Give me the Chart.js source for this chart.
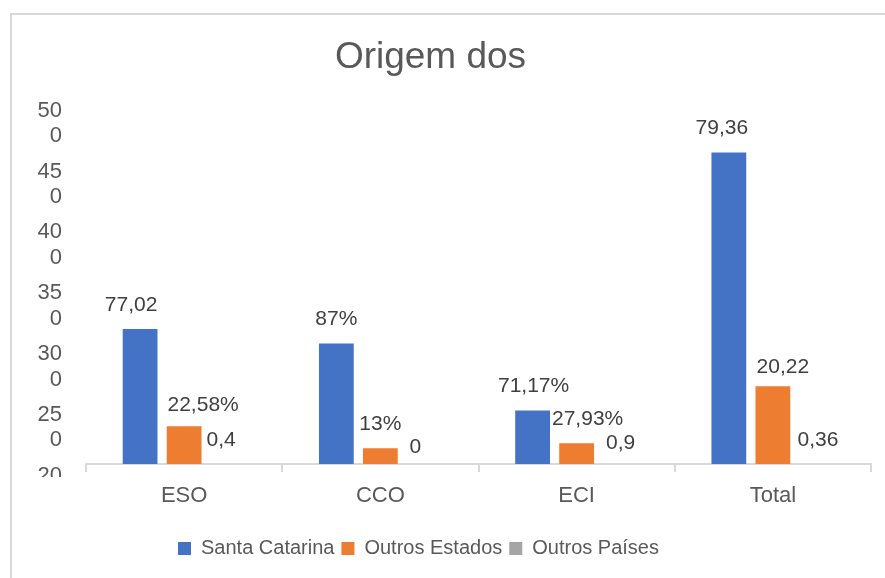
<!DOCTYPE html>
<html>
<head>
<meta charset="utf-8">
<script src="https://cdn.jsdelivr.net/npm/chart.js@4.4.1/dist/chart.umd.min.js"></script>
<style>
    html, body { margin: 0; padding: 0; background: #fff; overflow: hidden; }
    #frame {
        position: absolute; left: 10px; top: 13px; width: 900px; height: 600px;
        border-left: 2px solid #d9d9d9; border-top: 2px solid #d9d9d9;
    }
    #chart { position: absolute; left: 0; top: 0; }
</style>
</head>
<body>
<div id="frame"></div>
<canvas id="chart" width="885" height="578"></canvas>
<script>
// dados
const titleText = 'Origem dos';
const categories = ['ESO', 'CCO', 'ECI', 'Total'];
const seriesNames = ['Santa Catarina', 'Outros Estados', 'Outros Países'];
const santaCatarina = [331, 319, 264, 476];
const outrosEstados = [251, 233, 237, 284];
const outrosPaises = [2, 0, 3, 5];
const labelsSC = ['77,02', '87%', '71,17%', '79,36'];
const labelsOE = ['22,58%', '13%', '27,93%', '20,22'];
const labelsOP = ['0,4', '0', '0,9', '0,36'];
const yTicks = [500, 450, 400, 350, 300, 250, 200];
const yMin = 220;
const yMax = 500;

const colors = ['#4472C4', '#ED7D31', '#A5A5A5'];

Chart.defaults.font.family = "'Liberation Sans', Arial, sans-serif";

// rótulos de dados acima das barras (posição igual ao Excel)
const barLabels = {
    id: 'barLabels',
    afterDatasetsDraw(chart, args, opts) {
        const { ctx, chartArea } = chart;
        ctx.save();
        ctx.font = "21px 'Liberation Sans', Arial, sans-serif";
        ctx.fillStyle = '#404040';
        ctx.textAlign = 'center';
        ctx.textBaseline = 'middle';
        chart.data.datasets.forEach((ds, i) => {
            const meta = chart.getDatasetMeta(i);
            meta.data.forEach((bar, j) => {
                const top = Math.min(bar.y, chartArea.bottom);
                const n = opts.nudge[i][j];
                ctx.fillText(ds.valueLabels[j], bar.x + n[0], top - 24 + n[1]);
            });
        });
        ctx.restore();
    }
};

// o rótulo "200" do eixo aparece cortado na imagem original
const clipAxis = {
    id: 'clipAxis',
    beforeDraw(chart) {
        const { ctx, width, height } = chart;
        ctx.save();
        ctx.beginPath();
        ctx.rect(0, 0, width, height);
        ctx.rect(0, 477, 80, height - 477);
        ctx.clip('evenodd');
    },
    afterDraw(chart) {
        chart.ctx.restore();
    }
};

// título e legenda não ficam centrados na área do gráfico
const shiftBoxes = {
    id: 'shiftBoxes',
    afterLayout(chart, args, opts) {
        const t = chart.titleBlock;
        const half = (t.right - t.left) / 2;
        t.left = opts.titleCenter - half;
        t.right = opts.titleCenter + half;
        chart.legend.left += opts.legendShift;
        chart.legend.right += opts.legendShift;
    }
};

const ctx = document.getElementById('chart').getContext('2d');
new Chart(ctx, {
    type: 'bar',
    data: {
        labels: categories,
        datasets: [
            { label: seriesNames[0], data: santaCatarina, valueLabels: labelsSC, backgroundColor: colors[0] },
            { label: seriesNames[1], data: outrosEstados, valueLabels: labelsOE, backgroundColor: colors[1] },
            { label: seriesNames[2], data: outrosPaises, valueLabels: labelsOP, backgroundColor: colors[2] }
        ]
    },
    options: {
        responsive: false,
        animation: false,
        categoryPercentage: 0.673,
        barPercentage: 0.79,
        layout: { padding: { left: 0, right: 14, top: 0, bottom: 9.5 } },
        scales: {
            x: {
                grid: { display: true, drawOnChartArea: false, drawTicks: true, tickLength: 8, color: '#d9d9d9', lineWidth: 2, offset: true },
                border: { display: true, color: '#d9d9d9', width: 2 },
                ticks: { color: '#595959', font: { size: 22 }, padding: 11 },
                afterFit: (s) => { s.height = 67.5; }
            },
            y: {
                min: yMin,
                max: yMax,
                afterBuildTicks: (s) => { s.ticks = yTicks.map(v => ({ value: v })); },
                afterFit: (s) => { s.width = 86; },
                grid: { display: false, drawTicks: false },
                border: { display: false },
                ticks: {
                    autoSkip: false,
                    padding: 24,
                    color: '#595959',
                    font: { size: 22, lineHeight: 1.16 },
                    callback: (v) => { const s = String(v); return [s.slice(0, 2), s.slice(2)]; }
                }
            }
        },
        plugins: {
            title: {
                display: true,
                text: titleText,
                color: '#595959',
                font: { size: 37, weight: 'normal' },
                padding: { top: 36, bottom: 43 }
            },
            legend: {
                position: 'bottom',
                labels: { color: '#595959', font: { size: 20 }, boxWidth: 13, boxHeight: 13, padding: 7 }
            },
            tooltip: { enabled: false },
            barLabels: {
                nudge: [
                    [[-9, 0], [0, 0], [1, 0], [-7, 0]],
                    [[19, 3], [0, 0], [11, 0], [10, 5]],
                    [[-7, 0], [-9, 7], [0, 3], [1, 0]]
                ]
            },
            shiftBoxes: { titleCenter: 430.5, legendShift: -17 }
        }
    },
    plugins: [barLabels, clipAxis, shiftBoxes]
});
</script>
</body>
</html>
